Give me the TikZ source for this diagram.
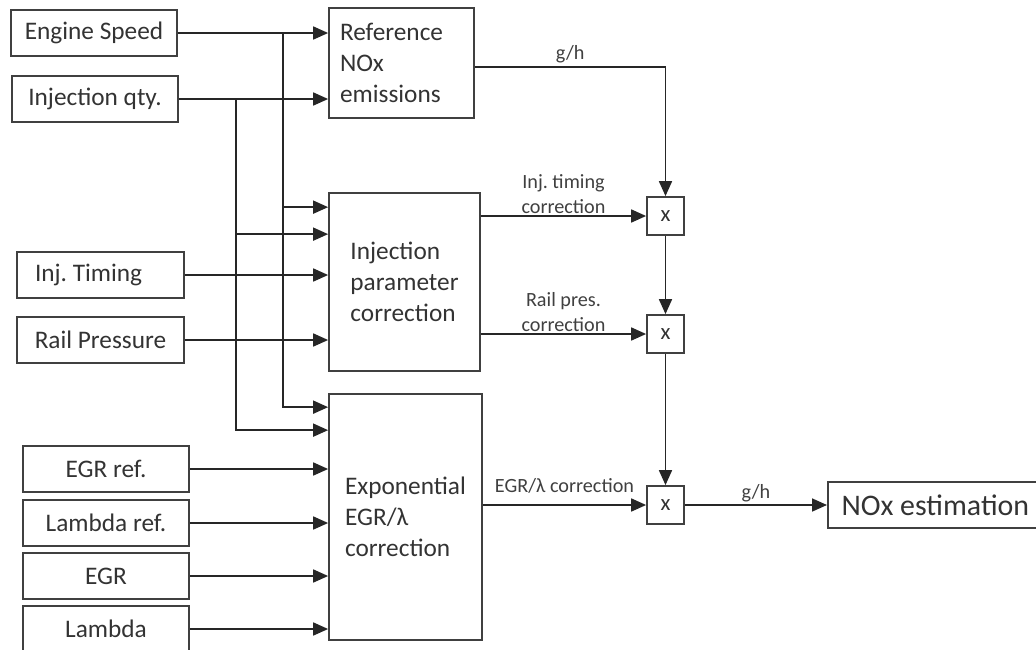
\documentclass[tikz,border=0pt]{standalone}
\usepackage{fontspec}
\setmainfont{Carlito}
\usetikzlibrary{arrows.meta}

\begin{document}
\begin{tikzpicture}[x=0.02cm, y=-0.02cm, line width=1pt, draw=black!85,
  >={Triangle[length=0.3cm, width=0.26cm]},
  inbox/.style={draw=black!75, text=black!80, minimum width=3.32cm, minimum height=0.93cm, font=\fontsize{14.4}{17.6}\selectfont},
  block/.style={draw=black!75, text=black!80, align=left, font=\fontsize{14.4}{17.6}\selectfont},
  mult/.style={draw=black!75, text=black!80, minimum width=0.74cm, minimum height=0.76cm, font=\fontsize{13}{15}\selectfont},
  lbl/.style={text=black!75, align=center, inner sep=1pt, font=\fontsize{11.5}{14}\selectfont}]
  \useasboundingbox (0,0) rectangle (1036,650);

  % inputs
  \node[inbox] (speed) at (94,33) {Engine Speed};
  \node[inbox] (qty) at (95,99) {Injection qty.};
  \node[inbox, text width=2.62cm, inner xsep=0.36cm, align=flush left] (timing) at (100.5,275) {Inj.\ Timing};
  \node[inbox, minimum width=3.34cm] (rail) at (100.5,340) {Rail Pressure};
  \node[inbox] (egrref) at (106,469) {EGR ref.};
  \node[inbox] (lamref) at (106,523) {Lambda ref.};
  \node[inbox] (egr) at (106,576) {EGR};
  \node[inbox] (lambda) at (106,629) {Lambda};

  % blocks
  \node[block, text width=2.46cm, inner xsep=0.22cm, minimum height=2.2cm, align=flush left] (ref) at (401.5,63) {Reference\\NOx\\emissions};
  \node[block, minimum width=3.02cm, minimum height=3.56cm] (injpar) at (404.5,282) {Injection\\parameter\\correction};
  \node[block, minimum width=3.06cm, minimum height=4.92cm] (expo) at (405.5,517) {Exponential\\EGR/λ\\correction};

  \node[mult] (m1) at (665.5,216) {x};
  \node[mult] (m2) at (665.5,334) {x};
  \node[mult] (m3) at (665.5,505) {x};
  \node[inbox, anchor=west, minimum width=4.3cm, font=\fontsize{17}{20}\selectfont] (nox) at (827,505) {NOx estimation};

  % buses
  \coordinate (bspeed) at (283,33);
  \coordinate (bqty) at (236,99);

  \draw[->] (speed.east) -- (speed.east -| ref.west);
  \draw[->] (qty.east) -- (qty.east -| ref.west);
  \draw[->] (bspeed) |- ([yshift=-0.3cm]injpar.north west);
  \draw[->] (bspeed) |- ([yshift=-0.28cm]expo.north west);
  \draw[->] (bqty) |- ([yshift=-0.84cm]injpar.north west);
  \draw[->] (bqty) |- ([yshift=-0.74cm]expo.north west);
  \draw[->] (timing) -- (timing -| injpar.west);
  \draw[->] (rail) -- (rail -| injpar.west);
  \draw[->] (egrref) -- (egrref -| expo.west);
  \draw[->] (lamref) -- (lamref -| expo.west);
  \draw[->] (egr) -- (egr -| expo.west);
  \draw[->] (lambda) -- (lambda -| expo.west);

  % corrections
  \draw[->] ([yshift=-0.08cm]ref.east) -| node[lbl, pos=0.25, above=1pt] {g/h} (m1.north);
  \draw[->] (injpar.east |- m1) -- node[lbl, above] {Inj.\ timing\\correction} (m1.west);
  \draw[->] (injpar.east |- m2) -- node[lbl, above] {Rail pres.\\correction} (m2.west);
  \draw[->] (expo.east |- m3) -- node[lbl, above=5pt] {EGR/λ correction} (m3.west);
  \draw[->] (m1) -- (m2);
  \draw[->] (m2) -- (m3);
  \draw[->] (m3) -- node[lbl, above] {g/h} (nox);
\end{tikzpicture}
\end{document}
